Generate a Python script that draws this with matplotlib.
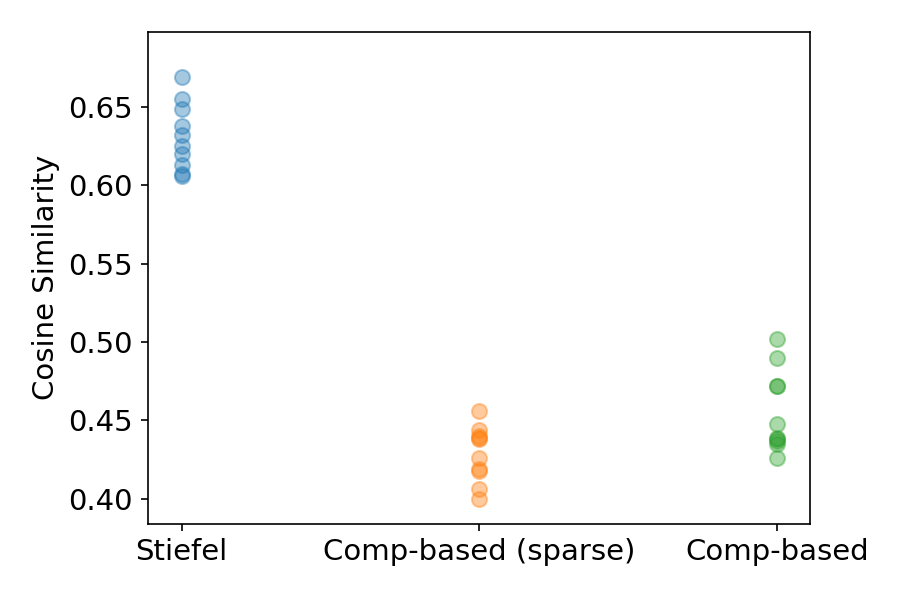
import matplotlib
matplotlib.use("Agg")
import matplotlib.pyplot as plt

methods = ["Stiefel", "Comp-based (sparse)", "Comp-based"]
stiefel = [0.669, 0.655, 0.649, 0.638, 0.632, 0.625, 0.620, 0.613, 0.607, 0.606]
comp_sparse = [0.456, 0.444, 0.440, 0.439, 0.438, 0.426, 0.419, 0.418, 0.406, 0.400]
comp_based = [0.502, 0.490, 0.472, 0.472, 0.448, 0.439, 0.438, 0.437, 0.435, 0.426]

plt.rcParams['font.size'] = 14
fig = plt.figure(figsize=(6, 4), dpi=150)
ax = fig.add_axes([0.164, 0.127, 0.736, 0.82])

for i, vals in enumerate([stiefel, comp_sparse, comp_based]):
    ax.scatter([i] * len(vals), vals, s=52, alpha=0.4, color=f"C{i}")

ax.set_xticks(range(len(methods)))
ax.set_xticklabels(methods)
ax.set_ylabel("Cosine Similarity")
ax.set_xlim(-0.114, 2.11)
ax.set_ylim(0.384, 0.698)

fig.savefig("out.png", dpi=150)
